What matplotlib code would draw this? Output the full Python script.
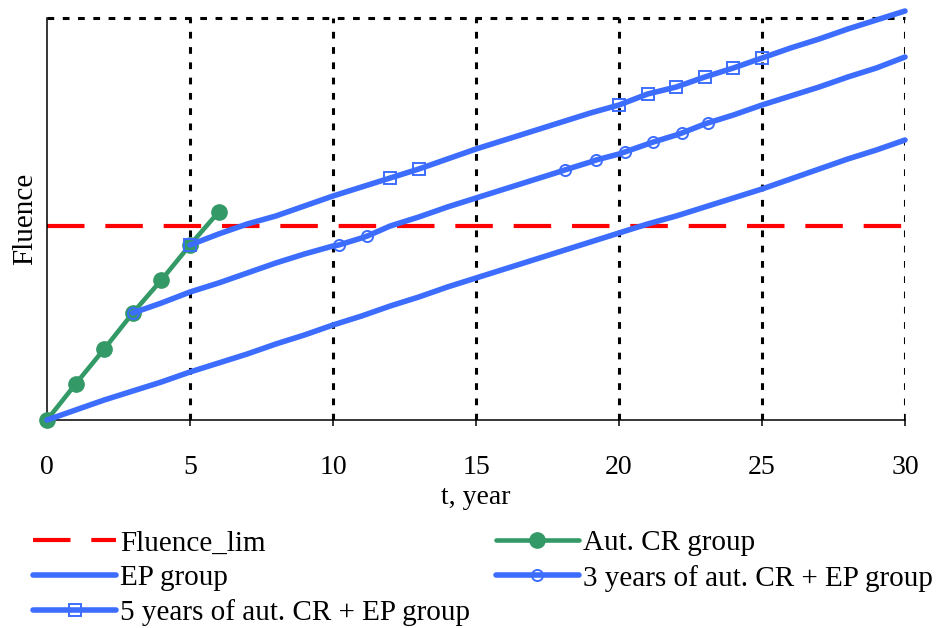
import numpy as np
import matplotlib
matplotlib.use("Agg")
import matplotlib.pyplot as plt

plt.rcParams['font.family'] = ['Liberation Serif', 'DejaVu Serif']

# ---------------- data (fluence in arbitrary units) ----------------
fluence_lim = 19.4
y_top = 40.2
x_ticks = [0, 5, 10, 15, 20, 25, 30]

aut_t = [0, 1, 2, 3, 4, 5, 6]
aut_f = [0.0, 3.6, 7.1, 10.7, 14.0, 17.5, 20.8]

ep_t = list(range(0, 31))
ep_f = [0.0, 1.0, 2.0, 2.9, 3.8, 4.8, 5.7, 6.6, 7.6, 8.5, 9.5, 10.4, 11.4, 12.3,
        13.3, 14.2, 15.1, 16.0, 16.9, 17.8, 18.7, 19.6, 20.4, 21.3, 22.2, 23.1,
        24.1, 25.1, 26.1, 27.0, 28.0]

cr3_t = [3, 4, 5, 6, 7, 8, 9, 10, 10.2, 11, 11.2, 12, 13, 14, 15, 16, 17, 18,
         18.1, 19, 19.2, 20, 20.2, 21, 21.2, 22, 22.2, 23, 23.1, 24, 25, 26, 27,
         28, 29, 30]
cr3_f = [10.7, 11.7, 12.8, 13.7, 14.7, 15.7, 16.6, 17.4, 17.5, 18.2, 18.4, 19.4,
         20.3, 21.3, 22.2, 23.1, 24.0, 24.9, 25.0, 25.8, 26.0, 26.6, 26.8, 27.6,
         27.8, 28.5, 28.7, 29.6, 29.7, 30.5, 31.5, 32.4, 33.3, 34.3, 35.2, 36.3]
cr3_marker_t = [3, 10.2, 11.2, 18.1, 19.2, 20.2, 21.2, 22.2, 23.1]

cr5_t = list(range(5, 31))
cr5_f = [17.5, 18.6, 19.6, 20.4, 21.4, 22.4, 23.3, 24.2, 25.1, 26.1, 27.1, 28.0,
         28.9, 29.8, 30.7, 31.5, 32.6, 33.3, 34.3, 35.2, 36.2, 37.2, 38.1, 39.1,
         40.0, 40.9]
cr5_marker_t = [5, 12, 13, 20, 21, 22, 23, 24, 25]

labels = ['Fluence_lim', 'Aut. CR group', 'EP group',
          '3 years of aut. CR + EP group', '5 years of aut. CR + EP group']

# ---------------- styling ----------------
RED = '#FF0000'
GREEN = '#339966'
BLUE = '#3D6DFF'
FS_TICK = 20
FS_TXT = 21
dot_style = (0, (2.2, 2.8))

fig = plt.figure(figsize=(9.45, 6.28), dpi=100)
ax = fig.add_axes([47 / 945, 1 - 420 / 628, (905 - 47) / 945, (420 - 18) / 628])

h_lim = ax.axhline(fluence_lim, color=RED, lw=3.0, linestyle=(0, (9.0, 5.0)),
                   label=labels[0], zorder=2)

h_aut, = ax.plot(aut_t, aut_f, color=GREEN, lw=3.3, marker='o', markersize=11,
                 label=labels[1], clip_on=False, zorder=3,
                 solid_capstyle='round', solid_joinstyle='round')

h_ep, = ax.plot(ep_t, ep_f, color=BLUE, lw=4.0, label=labels[2], clip_on=False,
                zorder=4, solid_capstyle='round', solid_joinstyle='round')

m3 = np.isin(np.array(cr3_t, dtype=float), np.array(cr3_marker_t, dtype=float))
h_3, = ax.plot(cr3_t, cr3_f, color=BLUE, lw=4.0, marker='o', markersize=8,
               mfc='none', mec=BLUE, mew=1.4, markevery=list(np.where(m3)[0]),
               label=labels[3], clip_on=False, zorder=5,
               solid_capstyle='round', solid_joinstyle='round')

m5 = np.isin(np.array(cr5_t, dtype=float), np.array(cr5_marker_t, dtype=float))
h_5, = ax.plot(cr5_t, cr5_f, color=BLUE, lw=4.0, marker='s', markersize=8,
               mfc='none', mec=BLUE, mew=1.4, markevery=list(np.where(m5)[0]),
               label=labels[4], clip_on=False, zorder=6,
               solid_capstyle='round', solid_joinstyle='round')

ax.set_xlim(0, 30)
ax.set_ylim(0, y_top)
ax.set_xticks(x_ticks)
ax.set_yticks([])

ax.xaxis.grid(True, color='black', lw=2.2, linestyle=dot_style)
ax.get_xgridlines()[0].set_visible(False)
ax.axhline(y_top, color='black', lw=2.2, linestyle=dot_style, clip_on=False, zorder=1)
ax.set_axisbelow(True)

for s in ['top', 'right']:
    ax.spines[s].set_visible(False)
for s in ['left', 'bottom']:
    ax.spines[s].set_color('black')
    ax.spines[s].set_linewidth(1.1)

ax.tick_params(axis='x', direction='inout', length=9, width=1.1, labelsize=FS_TICK,
               pad=21, colors='black')
ax.set_xlabel('t, year', fontsize=FS_TICK, labelpad=3)
ax.set_ylabel('Fluence', fontsize=FS_TXT, labelpad=6)

fig.legend(handles=[h_lim, h_ep, h_5, h_aut, h_3],
           labels=[labels[0], labels[2], labels[4], labels[1], labels[3]],
           ncol=2, loc='upper left', bbox_to_anchor=(33 / 945, 1 - 530 / 628),
           frameon=False, fontsize=FS_TXT, handlelength=2.85, handletextpad=0.15,
           columnspacing=0.87, labelspacing=0.28, borderpad=0, borderaxespad=0)

fig.savefig('out.png', dpi=100)
